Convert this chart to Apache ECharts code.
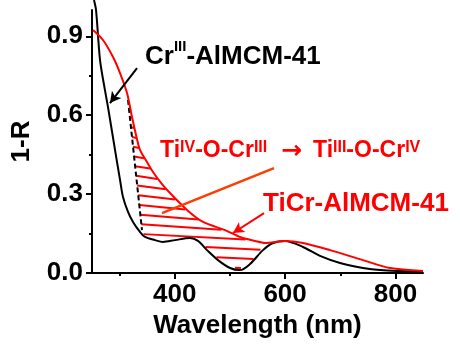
<!DOCTYPE html>
<html><head><meta charset="utf-8">
<script src="https://cdn.jsdelivr.net/npm/echarts@6/dist/echarts.min.js"></script>
<style>html,body{margin:0;padding:0;background:#fff}#c{width:460px;height:347px}</style>
</head><body><div id="c"></div>
<script>
// ---- data ----
const blackWl = [253.6, 257.3, 264.5, 271.8, 279.0, 291.7, 300.8, 306.2, 315.3, 324.3, 337.0, 346.1, 364.2, 378.7, 400.5, 427.6, 442.1, 458.5, 478.4, 500.2, 518.3, 536.4, 560.0, 578.1, 599.9, 632.5, 663.3, 699.6, 741.2, 772.1, 850];
const blackR  = [1.038, 1.0, 0.81, 0.715, 0.631, 0.468, 0.354, 0.289, 0.232, 0.194, 0.156, 0.137, 0.125, 0.118, 0.125, 0.133, 0.122, 0.087, 0.049, 0.019, 0.011, 0.034, 0.087, 0.114, 0.122, 0.099, 0.065, 0.038, 0.019, 0.011, 0.004];
const redWl = [251.8, 269.9, 288.1, 300.8, 313.5, 322.5, 329.8, 337.0, 349.7, 360.6, 376.9, 391.4, 422.2, 451.2, 491.1, 518.3, 545.5, 563.6, 599.9, 632.5, 681.4, 741.2, 790.2, 850];
const redR  = [0.924, 0.886, 0.821, 0.760, 0.684, 0.593, 0.525, 0.468, 0.422, 0.384, 0.338, 0.304, 0.240, 0.194, 0.163, 0.137, 0.122, 0.114, 0.122, 0.114, 0.087, 0.049, 0.019, 0.008];
const dashWl = [315.3, 340.6];
const dashR  = [0.658, 0.163];
const hatchEndWl = 556;
const xMajorTicks = [400, 600, 800];
const xMinorTicks = [300, 500, 700];
const yMajorTicks = [0, 0.3, 0.6, 0.9];
const yMinorTicks = [0.15, 0.45, 0.75];
const xName = 'Wavelength (nm)';
const yName = '1-R';
// annotation anchors (data coords)
const arrowBlack = [[331.6, 0.779], [282.6, 0.646]];
const lineOrange = [[376.9, 0.228], [579.9, 0.399]];
const arrowRed   = [[561.8, 0.228], [505.6, 0.152]];

const FONT = "'Liberation Sans', Arial, sans-serif";
const pairs = (xs, ys) => xs.map((x, i) => [x, ys[i]]);

function hatchRender(params, api) {
  const toPx = (xs, ys) => xs.map((x, i) => api.coord([x, ys[i]]));
  const rp = toPx(redWl, redR), bp = toPx(blackWl, blackR), dp = toPx(dashWl, dashR);
  const yAt = (pts, px) => {
    for (let i = 0; i < pts.length - 1; i++) {
      const a = pts[i], b = pts[i + 1];
      if (px >= a[0] && px <= b[0]) { const t = (px - a[0]) / (b[0] - a[0]); return a[1] + t * (b[1] - a[1]); }
    }
    return NaN;
  };
  const dashX = (py) => { const a = dp[0], b = dp[1]; const t = (py - a[1]) / (b[1] - a[1]); return a[0] + t * (b[0] - a[0]); };
  const xEnd = api.coord([hatchEndWl, 0])[0];
  const children = [];
  const n = 18;
  for (let i = 0; i < n; i++) {
    const y0 = dp[0][1] + 8 + i * 9.7;
    const s = i < 14 ? 0.26 - i * 0.016 : 0.05;
    const x0 = y0 <= dp[1][1] ? dashX(y0) : dp[1][0];
    let segStart = null, last = null;
    for (let px = x0; px <= xEnd; px += 0.5) {
      const py = y0 + s * (px - x0);
      const ry = yAt(rp, px), by = yAt(bp, px);
      const leftOk = py <= dp[1][1] ? px >= dashX(py) - 0.1 : px >= dp[1][0];
      const inside = leftOk && py > ry + 1 && py < by - 1.2;
      if (inside) { if (!segStart) segStart = [px, py]; last = [px, py]; }
      else if (segStart) {
        children.push({ type: 'line', shape: { x1: segStart[0], y1: segStart[1], x2: last[0], y2: last[1] }, style: { stroke: '#ff0000', lineWidth: 2 } });
        segStart = null;
      }
    }
    if (segStart) children.push({ type: 'line', shape: { x1: segStart[0], y1: segStart[1], x2: last[0], y2: last[1] }, style: { stroke: '#ff0000', lineWidth: 2 } });
  }
  return { type: 'group', children };
}

const axisText = { color: '#000', fontSize: 26, fontWeight: 'bold', fontFamily: FONT };
const chart = echarts.init(document.getElementById('c'), null, { renderer: 'canvas' });
chart.setOption({
  animation: false,
  backgroundColor: '#fff',
  grid: { left: 92, right: 37, top: 10, bottom: 74, containLabel: false },
  xAxis: [
    { type: 'value', min: 250, max: 850, position: 'bottom',
      axisLine: { onZero: false, lineStyle: { color: '#000', width: 2 } },
      axisTick: { customValues: xMajorTicks, length: 6, lineStyle: { color: '#000', width: 2 } },
      axisLabel: Object.assign({ customValues: xMajorTicks, margin: 9 }, axisText),
      splitLine: { show: false },
      name: xName, nameLocation: 'middle', nameGap: 40, nameTextStyle: axisText },
    { type: 'value', min: 250, max: 850, position: 'bottom',
      axisLine: { show: false },
      axisTick: { customValues: xMinorTicks, length: 3, lineStyle: { color: '#000', width: 2 } },
      axisLabel: { show: false }, splitLine: { show: false } }
  ],
  yAxis: [
    { type: 'value', min: 0, max: 1.0, position: 'left',
      axisLine: { show: true, onZero: false, lineStyle: { color: '#000', width: 2 } },
      axisTick: { show: true, customValues: yMajorTicks, length: 6, lineStyle: { color: '#000', width: 2 } },
      axisLabel: Object.assign({ customValues: yMajorTicks, margin: 9, formatter: v => v.toFixed(1) }, axisText),
      splitLine: { show: false },
      name: yName, nameLocation: 'middle', nameGap: 57, nameRotate: 90, nameTextStyle: axisText },
    { type: 'value', min: 0, max: 1.0, position: 'left',
      axisLine: { show: false },
      axisTick: { show: true, customValues: yMinorTicks, length: 3, lineStyle: { color: '#000', width: 2 } },
      axisLabel: { show: false }, splitLine: { show: false } }
  ],
  series: [
    { type: 'custom', name: 'hatch', renderItem: hatchRender, data: [[400, 0.3]], clip: false, silent: true, z: 1 },
    { type: 'line', name: 'dash', data: pairs(dashWl, dashR), symbol: 'none', silent: true, z: 2,
      lineStyle: { color: '#000', width: 2, type: [5, 3] } },
    { type: 'line', name: 'CrIII-AlMCM-41', data: pairs(blackWl, blackR), symbol: 'none', smooth: 0.3, clip: false, silent: true, z: 3,
      lineStyle: { color: '#000', width: 2 },
      markLine: { silent: true, animation: false, label: { show: false }, symbol: ['none', 'arrow'], symbolSize: [9, 11],
        lineStyle: { color: '#000', width: 2, type: 'solid' },
        data: [[{ coord: arrowBlack[0] }, { coord: arrowBlack[1] }]] } },
    { type: 'line', name: 'TiCr-AlMCM-41', data: pairs(redWl, redR), symbol: 'none', smooth: 0.3, clip: false, silent: true, z: 4,
      lineStyle: { color: '#ff0000', width: 2 },
      markLine: { silent: true, animation: false, label: { show: false }, symbolSize: [9, 11],
        data: [
          [{ coord: lineOrange[0], symbol: 'none', lineStyle: { color: '#ff3c00', width: 2.5, type: 'solid' } }, { coord: lineOrange[1], symbol: 'none' }],
          [{ coord: arrowRed[0], symbol: 'none', lineStyle: { color: '#ff0000', width: 2, type: 'solid' } }, { coord: arrowRed[1], symbol: 'arrow' }]
        ] } }
  ],
  graphic: [
    { type: 'text', x: 145, y: 57, silent: true, style: {
      text: '{m|Cr}{s|III}{m|-AlMCM-41}', verticalAlign: 'middle', align: 'left',
      rich: { m: { fontSize: 26, fontWeight: 'bold', fontFamily: FONT, fill: '#000', lineHeight: 35 },
              s: { fontSize: 15, fontWeight: 'bold', fontFamily: FONT, fill: '#000', lineHeight: 15, verticalAlign: 'top' } } } },
    { type: 'text', x: 160, y: 150.5, silent: true, style: {
      text: '{m|Ti}{s|IV}{m|-O-Cr}{s|III}', verticalAlign: 'middle', align: 'left',
      rich: { m: { fontSize: 23, fontWeight: 'bold', fontFamily: FONT, fill: '#ff0000', lineHeight: 22 },
              s: { fontSize: 16, fontWeight: 'bold', fontFamily: FONT, fill: '#ff0000', lineHeight: 16, verticalAlign: 'top' } } } },
    { type: 'text', x: 281, y: 151, silent: true, style: {
      text: '→', verticalAlign: 'middle', align: 'left', fontSize: 25, fontWeight: 'bold', fontFamily: "'DejaVu Sans', sans-serif", fill: '#ff0000' } },
    { type: 'text', x: 313, y: 150.5, silent: true, style: {
      text: '{m|Ti}{s|III}{m|-O-Cr}{s|IV}', verticalAlign: 'middle', align: 'left',
      rich: { m: { fontSize: 23, fontWeight: 'bold', fontFamily: FONT, fill: '#ff0000', lineHeight: 22 },
              s: { fontSize: 16, fontWeight: 'bold', fontFamily: FONT, fill: '#ff0000', lineHeight: 16, verticalAlign: 'top' } } } },
    { type: 'text', x: 263, y: 203.5, silent: true, style: {
      text: 'TiCr-AlMCM-41', verticalAlign: 'middle', align: 'left', fontSize: 26, fontWeight: 'bold', fontFamily: FONT, fill: '#ff0000' } }
  ]
});
</script>
</body></html>
